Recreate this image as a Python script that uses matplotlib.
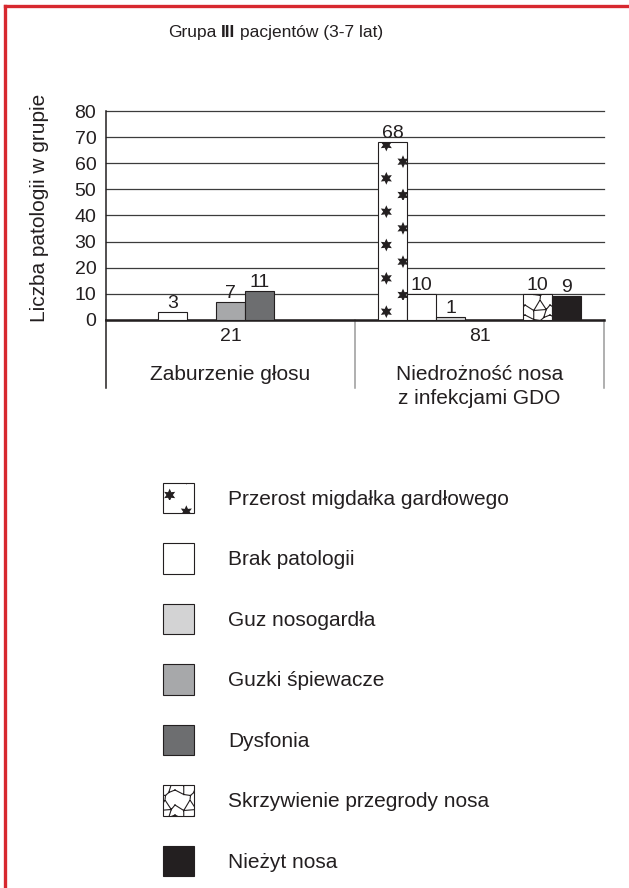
import matplotlib
matplotlib.use("Agg")
import matplotlib.pyplot as plt
import matplotlib.hatch as mhatch
from matplotlib.lines import Line2D
from matplotlib.path import Path
from matplotlib.text import Annotation
import numpy as np

plt.rcParams["font.family"] = ["Liberation Sans", "DejaVu Sans"]
plt.rcParams["hatch.linewidth"] = 0.8
plt.rcParams["hatch.color"] = "#231f20"

INK = "#231f20"
RED = "#d7282f"

# dane
categories = ["Zaburzenie głosu", "Niedrożność nosa\nz infekcjami GDO"]
group_totals = [21, 81]
series_names = [
    "Przerost migdałka gardłowego",
    "Brak patologii",
    "Guz nosogardła",
    "Guzki śpiewacze",
    "Dysfonia",
    "Skrzywienie przegrody nosa",
    "Nieżyt nosa",
]
przerost = [0, 68]
brak = [3, 10]
guz = [0, 1]
guzki = [7, 0]
dysfonia = [11, 0]
skrzywienie = [0, 10]
niezyt = [0, 9]
series_values = [przerost, brak, guz, guzki, dysfonia, skrzywienie, niezyt]
y_ticks = [0, 10, 20, 30, 40, 50, 60, 70, 80]

facecolors = ["white", "white", "#d3d3d4", "#a7a8aa", "#6d6e70", "white", INK]
hatches = ["*", None, None, None, None, "x", None]


# --- wlasne wzory kreskowania: gwiazdki i "spekana" siatka ---
class StarPattern(mhatch.HatchPatternBase):
    """Szesciopromienne gwiazdki w ukladzie przesunietych kolumn."""
    radius = 0.05

    def __init__(self, hatch, density):
        self.centers = []
        if "*" in hatch:
            r = self.radius
            for j in range(6):
                for k in range(3):
                    cx = (0.03 + (j % 2) / 6 + k / 3) % 1.0
                    cy = (0.05 + j / 6) % 1.0
                    for dx in (-1, 0, 1):
                        for dy in (-1, 0, 1):
                            x, y = cx + dx, cy + dy
                            if -r < x < 1 + r and -r < y < 1 + r:
                                self.centers.append((x, y))
        self.star = Path.unit_regular_star(6, 0.5)
        self.num_vertices = len(self.centers) * len(self.star.vertices)

    def set_vertices_and_codes(self, vertices, codes):
        n = len(self.star.vertices)
        for i, (cx, cy) in enumerate(self.centers):
            vertices[i * n:(i + 1) * n] = self.star.vertices * self.radius + (cx, cy)
            codes[i * n:(i + 1) * n] = self.star.codes


CRACKLE_SEGS = [
    ((0.60, 0.00), (0.35, 0.42)),
    ((0.60, 0.00), (0.85, 0.38)),
    ((0.35, 0.42), (0.85, 0.38)),
    ((0.00, 0.20), (0.35, 0.42)),
    ((0.85, 0.38), (1.00, 0.20)),
    ((0.35, 0.42), (0.35, 0.78)),
    ((0.35, 0.78), (0.00, 0.60)),
    ((0.85, 0.38), (0.75, 0.70)),
    ((0.75, 0.70), (1.00, 0.60)),
    ((0.35, 0.78), (0.62, 0.82)),
    ((0.62, 0.82), (0.75, 0.70)),
    ((0.62, 0.82), (0.60, 1.00)),
]


class CracklePattern(mhatch.HatchPatternBase):
    cells = 4

    def __init__(self, hatch, density):
        self.on = "x" in hatch
        self.num_vertices = self.cells ** 2 * len(CRACKLE_SEGS) * 2 if self.on else 0

    def set_vertices_and_codes(self, vertices, codes):
        s = 1.0 / self.cells
        i = 0
        for a in range(self.cells):
            for b in range(self.cells):
                for p, q in CRACKLE_SEGS:
                    vertices[i] = ((a + p[0]) * s, 1 - (b + p[1]) * s)
                    vertices[i + 1] = ((a + q[0]) * s, 1 - (b + q[1]) * s)
                    codes[i] = Path.MOVETO
                    codes[i + 1] = Path.LINETO
                    i += 2


mhatch._hatch_types = [StarPattern, CracklePattern]

# --- wykres ---
fig = plt.figure(figsize=(6.29, 8.88), dpi=100)
W, H = 629, 888
ax = fig.add_axes([106 / W, 1 - 320 / H, 498 / W, 209 / H])

x = np.arange(len(categories))
width = 0.116
handles = []
for i, (name, vals) in enumerate(zip(series_names, series_values)):
    bars = ax.bar(x + (i - 3) * width, vals, width, color=facecolors[i],
                  edgecolor=INK, linewidth=0.8, hatch=hatches[i], label=name,
                  zorder=3)
    handles.append(bars)
    for rect, v in zip(bars, vals):
        if v:
            ax.annotate(str(v), (rect.get_x() + rect.get_width() / 2, v),
                        xytext=(0, 3), textcoords="offset points",
                        ha="center", va="baseline", fontsize=14, color=INK)

ax.set_xlim(-0.5, 1.5)
ax.set_ylim(0, 80)
ax.set_yticks(y_ticks)
ax.set_xticks([])
ax.yaxis.grid(True, color="#3c3c3c", linewidth=0.9, clip_on=False)
ax.set_axisbelow(True)
ax.tick_params(axis="y", length=0, pad=7, labelsize=14, labelcolor=INK)
for side in ("top", "right"):
    ax.spines[side].set_visible(False)
ax.spines["left"].set_linewidth(1.1)
ax.spines["left"].set_color(INK)
ax.spines["bottom"].set_linewidth(1.8)
ax.spines["bottom"].set_color(INK)

# tabelka pod osia
xt = ax.get_xaxis_transform()
ax.plot([-0.5, -0.5], [0, -0.325], color=INK, lw=1.1, transform=xt, clip_on=False)
for bx in (0.5, 1.5):
    ax.plot([bx, bx], [0, -0.325], color="#9a9a9a", lw=1.1, transform=xt, clip_on=False)
for xi, tot, cat in zip(x, group_totals, categories):
    ax.text(xi, -0.08, str(tot), transform=xt, ha="center", va="center",
            fontsize=14, color=INK)
    ax.text(xi, -0.213, cat, transform=xt, ha="center", va="top",
            fontsize=15, color=INK, linespacing=1.36)

fig.text(40 / W, 1 - 208 / H, "Liczba patologii w grupie", rotation=90,
         ha="center", va="center", fontsize=15, color=INK)

# tytul z pogrubionym numerem grupy
t1 = fig.text(168 / W, 1 - 40 / H, "Grupa", fontsize=12.5, color=INK,
              ha="left", va="bottom")
t2 = fig.add_artist(Annotation(
    "III", xy=(1, 0), xycoords=t1, xytext=(3.5, 0), textcoords="offset points",
    fontsize=12.5, fontweight="bold", color=INK, va="bottom"))
t3 = fig.add_artist(Annotation(
    "pacjentów (3-7 lat)", xy=(1, 0), xycoords=t2, xytext=(3.5, 0),
    textcoords="offset points", fontsize=12.5, color=INK, va="bottom"))

fig.legend(handles, series_names, loc="upper left",
           bbox_to_anchor=(163 / W, 1 - 483 / H), frameon=False, fontsize=15,
           handlelength=1.49, handleheight=1.85, labelspacing=1.455,
           handletextpad=1.63, borderpad=0, borderaxespad=0,
           labelcolor=INK)

# czerwona ramka
fig.add_artist(Line2D([5 / W, 5 / W], [0, 1 - 6 / H], color=RED, lw=2.4))
fig.add_artist(Line2D([5 / W, 1], [1 - 6 / H, 1 - 6 / H], color=RED, lw=2.4))

fig.savefig("out.png", dpi=100)
